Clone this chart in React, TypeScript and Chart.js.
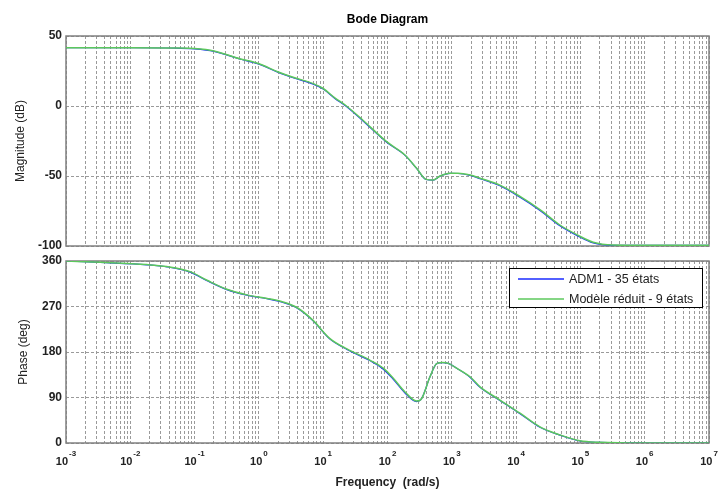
import React, { useEffect, useRef } from 'react';
import { Chart, registerables } from 'chart.js';

Chart.register(...registerables);

// ---------- data ----------
const magFreq = [0.001, 0.01, 0.05, 0.1, 0.2, 0.5, 1, 2, 3.5, 7, 10, 15, 23, 40, 97, 187, 284, 397, 511, 656, 938, 1250, 1920, 2750, 5600, 11500, 23500, 48000, 89000, 158000, 320000, 1e6, 1e7];
const magReduit = [41.6, 41.6, 41.4, 41.0, 39.3, 33.8, 30.2, 24.3, 20.3, 16.0, 12.5, 6.0, 0, -9.5, -25.5, -35, -44.5, -52.4, -52.9, -50, -48, -48, -49.3, -51.6, -56.5, -64.6, -74, -85, -92, -97.3, -99.3, -99.5, -99.5];
const magADM1 = [41.6, 41.6, 41.4, 40.8, 39.0, 33.6, 29.9, 24.0, 20.0, 15.6, 12.1, 5.6, -0.4, -10.0, -25.9, -35.3, -44.6, -52.5, -52.9, -50.1, -48.1, -48.2, -49.6, -52.0, -57.0, -65.2, -74.6, -85.6, -92.6, -97.8, -99.5, -99.5, -99.5];

const phaseFreq = [0.001, 0.0034, 0.018, 0.037, 0.085, 0.156, 0.317, 0.65, 1.34, 2.37, 3.9, 6.9, 12.6, 23.4, 53, 86, 123, 187, 284, 340, 458, 582, 720, 900, 1190, 1920, 2750, 5600, 11500, 23500, 48000, 98000, 200000, 1e6, 1e7];
const phaseReduit = [360, 357.5, 353, 349, 339, 322, 304, 293, 286, 279, 268, 243, 207, 186, 164, 148, 128, 101, 83, 88, 131, 157, 159, 157, 148, 131, 111, 85, 59, 32, 16, 4.5, 1.4, 0, 0];
const phaseADM1 = [360, 357, 352.5, 348.5, 338, 321, 303.5, 292.5, 285.5, 278, 267, 242, 206, 185, 163, 146, 126, 99, 82, 88, 131, 157, 159, 157, 148, 130, 110, 84, 58, 31, 15.5, 4, 1.2, 0, 0];

const seriesNames = ['ADM1 - 35 états', 'Modèle réduit - 9 états'];
const xExponents = ['-3', '-2', '-1', '0', '1', '2', '3', '4', '5', '6', '7'];
const magRange = [-100, 50];
const phaseRange = [0, 360];

// ---------- styles ----------
const FONT = '"Liberation Sans", Arial, sans-serif';
const BLUE = '#1a2bff';
const GREEN = '#5cc85c';
const GRID = '#9a9a9a';
const FRAME = '#808080';
const TEXT = '#222222';

const gridVals: number[] = [];
for (let e = -3; e < 7; e++) {
  for (let m = 1; m <= 9; m++) gridVals.push(Number((m * Math.pow(10, e)).toPrecision(12)));
}
gridVals.push(1e7);

const pts = (xs: number[], ys: number[]) => xs.map((x, i) => ({ x, y: ys[i] }));

const framePlugin = {
  id: 'frame',
  beforeDatasetsDraw(chart: any) {
    const { ctx, chartArea: a } = chart;
    ctx.save();
    ctx.strokeStyle = FRAME;
    ctx.lineWidth = 1.5;
    ctx.strokeRect(a.left, a.top, a.right - a.left, a.bottom - a.top);
    ctx.restore();
  },
};

function baseOptions(yMin: number, yMax: number, step: number, yTitle: string, padTop: number, titlePad: number, xHeight: number, padBottom: number) {
  return {
    animation: false,
    responsive: false,
    maintainAspectRatio: false,
    layout: { padding: { top: padTop, right: 10, bottom: padBottom, left: 0 } },
    plugins: { legend: { display: false }, tooltip: { enabled: false }, title: { display: false } },
    elements: { point: { radius: 0 } },
    scales: {
      x: {
        type: 'logarithmic',
        min: 1e-3,
        max: 1e7,
        afterBuildTicks: (s: any) => { s.ticks = gridVals.map((v) => ({ value: v })); },
        ticks: { display: false },
        grid: { color: GRID, drawTicks: false, lineWidth: 1 },
        border: { display: false, dash: [3, 2] },
        afterFit: (s: any) => { s.height = xHeight; s.paddingLeft = 0; s.paddingRight = 0; },
      },
      y: {
        min: yMin,
        max: yMax,
        ticks: { stepSize: step, font: { family: FONT, size: 12, weight: 'bold' }, color: TEXT, padding: 4 },
        grid: { color: GRID, drawTicks: false, lineWidth: 1 },
        border: { display: false, dash: [3, 2] },
        title: { display: true, text: yTitle, font: { family: FONT, size: 12 }, color: TEXT, padding: { top: titlePad, bottom: 0 } },
        afterFit: (s: any) => { s.width = 66; s.paddingTop = 0; s.paddingBottom = 0; },
      },
    },
  } as any;
}

export default function App() {
  const topRef = useRef<HTMLCanvasElement>(null);
  const botRef = useRef<HTMLCanvasElement>(null);

  useEffect(() => {
    const titlePlugin = {
      id: 'bodeTitle',
      afterDraw(chart: any) {
        const { ctx, chartArea: a } = chart;
        ctx.save();
        ctx.font = `bold 12px ${FONT}`;
        ctx.fillStyle = '#000';
        ctx.textAlign = 'center';
        ctx.textBaseline = 'middle';
        ctx.fillText('Bode Diagram', (a.left + a.right) / 2, 20);
        ctx.restore();
      },
    };

    const top = new Chart(topRef.current as HTMLCanvasElement, {
      type: 'line',
      data: {
        datasets: [
          { label: seriesNames[1], data: pts(magFreq, magReduit), borderColor: GREEN, borderWidth: 1.5, cubicInterpolationMode: 'monotone' },
          { label: seriesNames[0], data: pts(magFreq, magADM1), borderColor: BLUE, borderWidth: 1.2, cubicInterpolationMode: 'monotone' },
        ],
      } as any,
      options: baseOptions(magRange[0], magRange[1], 50, 'Magnitude (dB)', 36, 13, 0, 6),
      plugins: [framePlugin, titlePlugin],
    });

    const axisLabelPlugin = {
      id: 'xLabels',
      afterDraw(chart: any) {
        const { ctx, chartArea: a } = chart;
        const xs = chart.scales.x;
        ctx.save();
        ctx.fillStyle = TEXT;
        ctx.textBaseline = 'middle';
        ctx.textAlign = 'left';
        xExponents.forEach((ex) => {
          const px = xs.getPixelForValue(Math.pow(10, Number(ex)));
          ctx.font = `bold 11px ${FONT}`;
          const wb = ctx.measureText('10').width;
          ctx.font = `bold 8px ${FONT}`;
          const we = ctx.measureText(ex).width;
          const start = px - (wb + we + 1) / 2;
          ctx.font = `bold 11px ${FONT}`;
          ctx.fillText('10', start, a.bottom + 19);
          ctx.font = `bold 8px ${FONT}`;
          ctx.fillText(ex, start + wb + 1, a.bottom + 11);
        });
        ctx.font = `bold 12px ${FONT}`;
        ctx.textAlign = 'center';
        ctx.fillText('Frequency  (rad/s)', (a.left + a.right) / 2, a.bottom + 40);
        ctx.restore();
      },
    };

    const legendPlugin = {
      id: 'boxLegend',
      afterDraw(chart: any) {
        const { ctx, chartArea: a } = chart;
        const right = a.right - 7;
        const left = right - 193;
        const t = a.top + 7;
        const h = 39;
        ctx.save();
        ctx.fillStyle = '#fff';
        ctx.fillRect(left, t, right - left, h);
        ctx.strokeStyle = '#000';
        ctx.lineWidth = 1;
        ctx.strokeRect(left + 0.5, t + 0.5, right - left, h);
        const rows = [
          { name: seriesNames[0], color: BLUE, y: t + 11 },
          { name: seriesNames[1], color: GREEN, y: t + 31 },
        ];
        ctx.font = `12.5px ${FONT}`;
        ctx.textBaseline = 'middle';
        ctx.textAlign = 'left';
        rows.forEach((r) => {
          ctx.strokeStyle = r.color;
          ctx.lineWidth = 1.5;
          ctx.beginPath();
          ctx.moveTo(left + 9, r.y);
          ctx.lineTo(left + 55, r.y);
          ctx.stroke();
          ctx.fillStyle = TEXT;
          ctx.fillText(r.name, left + 60, r.y + 1);
        });
        ctx.restore();
      },
    };

    const bot = new Chart(botRef.current as HTMLCanvasElement, {
      type: 'line',
      data: {
        datasets: [
          { label: seriesNames[1], data: pts(phaseFreq, phaseReduit), borderColor: GREEN, borderWidth: 1.5, cubicInterpolationMode: 'monotone' },
          { label: seriesNames[0], data: pts(phaseFreq, phaseADM1), borderColor: BLUE, borderWidth: 1.2, cubicInterpolationMode: 'monotone' },
        ],
      } as any,
      options: baseOptions(phaseRange[0], phaseRange[1], 90, 'Phase (deg)', 9, 16, 49, 0),
      plugins: [framePlugin, axisLabelPlugin, legendPlugin],
    });

    return () => {
      top.destroy();
      bot.destroy();
    };
  }, []);

  return (
    <div style={{ position: 'absolute', left: 0, top: 0, width: 719, height: 492, background: '#fff' }}>
      <canvas ref={topRef} width={719} height={252} style={{ position: 'absolute', left: 0, top: 0, width: 719, height: 252 }} />
      <canvas ref={botRef} width={719} height={240} style={{ position: 'absolute', left: 0, top: 252, width: 719, height: 240 }} />
    </div>
  );
}
